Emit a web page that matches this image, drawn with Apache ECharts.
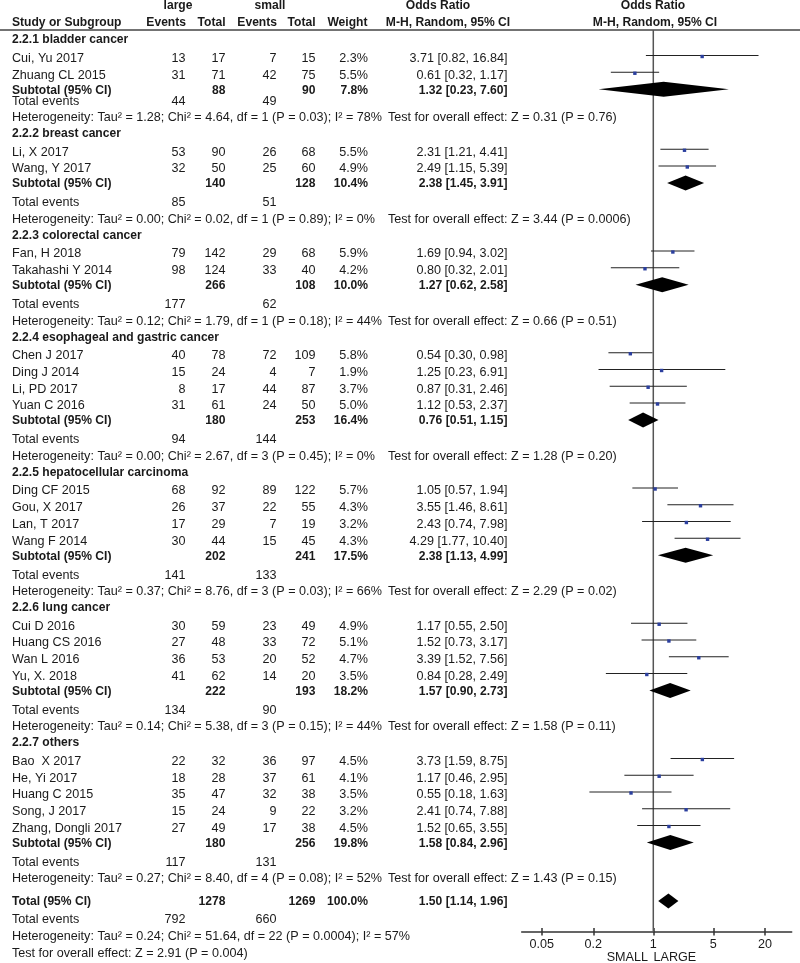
<!DOCTYPE html>
<html>
<head>
<meta charset="utf-8">
<script src="https://cdn.jsdelivr.net/npm/echarts@6/dist/echarts.min.js"></script>
<style>
html,body{margin:0;padding:0;background:#fff;}
#chart{width:800px;height:963px;}
</style>
</head>
<body>
<div id="chart"></div>
<script>
// ---------------- DATA ----------------
const groupNames = ["2.2.1 bladder cancer","2.2.2 breast cancer","2.2.3 colorectal cancer","2.2.4 esophageal and gastric cancer","2.2.5 hepatocellular carcinoma","2.2.6 lung cancer","2.2.7 others"];
const studyNames = ["Cui, Yu 2017","Zhuang CL 2015","Li, X 2017","Wang, Y 2017","Fan, H 2018","Takahashi Y 2014","Chen J 2017","Ding J 2014","Li, PD 2017","Yuan C 2016","Ding CF 2015","Gou, X 2017","Lan, T 2017","Wang F 2014","Cui D 2016","Huang CS 2016","Wan L 2016","Yu, X. 2018","Bao  X 2017","He, Yi 2017","Huang C 2015","Song, J 2017","Zhang, Dongli 2017"];
const studyGroup = [0,0,1,1,2,2,3,3,3,3,4,4,4,4,5,5,5,5,6,6,6,6,6];
const largeEvents = [13,31,53,32,79,98,40,15,8,31,68,26,17,30,30,27,36,41,22,18,35,15,27];
const largeTotal = [17,71,90,50,142,124,78,24,17,61,92,37,29,44,59,48,53,62,32,28,47,24,49];
const smallEvents = [7,42,26,25,29,33,72,4,44,24,89,22,7,15,23,33,20,14,36,37,32,9,17];
const smallTotal = [15,75,68,60,68,40,109,7,87,50,122,55,19,45,49,72,52,20,97,61,38,22,38];
const studyWeight = [2.3,5.5,5.5,4.9,5.9,4.2,5.8,1.9,3.7,5.0,5.7,4.3,3.2,4.3,4.9,5.1,4.7,3.5,4.5,4.1,3.5,3.2,4.5];
const studyOR = [3.71,0.61,2.31,2.49,1.69,0.80,0.54,1.25,0.87,1.12,1.05,3.55,2.43,4.29,1.17,1.52,3.39,0.84,3.73,1.17,0.55,2.41,1.52];
const studyLow = [0.82,0.32,1.21,1.15,0.94,0.32,0.30,0.23,0.31,0.53,0.57,1.46,0.74,1.77,0.55,0.73,1.52,0.28,1.59,0.46,0.18,0.74,0.65];
const studyHigh = [16.84,1.17,4.41,5.39,3.02,2.01,0.98,6.91,2.46,2.37,1.94,8.61,7.98,10.40,2.50,3.17,7.56,2.49,8.75,2.95,1.63,7.88,3.55];

const subLargeTotal = [88,140,266,180,202,222,180];
const subSmallTotal = [90,128,108,253,241,193,256];
const subWeight = [7.8,10.4,10.0,16.4,17.5,18.2,19.8];
const subOR = [1.32,2.38,1.27,0.76,2.38,1.57,1.58];
const subLow = [0.23,1.45,0.62,0.51,1.13,0.90,0.84];
const subHigh = [7.60,3.91,2.58,1.15,4.99,2.73,2.96];
const subLargeEvents = [44,85,177,94,141,134,117];
const subSmallEvents = [49,51,62,144,133,90,131];
const hetTexts = [
  "Heterogeneity: Tau\u00b2 = 1.28; Chi\u00b2 = 4.64, df = 1 (P = 0.03); I\u00b2 = 78%",
  "Heterogeneity: Tau\u00b2 = 0.00; Chi\u00b2 = 0.02, df = 1 (P = 0.89); I\u00b2 = 0%",
  "Heterogeneity: Tau\u00b2 = 0.12; Chi\u00b2 = 1.79, df = 1 (P = 0.18); I\u00b2 = 44%",
  "Heterogeneity: Tau\u00b2 = 0.00; Chi\u00b2 = 2.67, df = 3 (P = 0.45); I\u00b2 = 0%",
  "Heterogeneity: Tau\u00b2 = 0.37; Chi\u00b2 = 8.76, df = 3 (P = 0.03); I\u00b2 = 66%",
  "Heterogeneity: Tau\u00b2 = 0.14; Chi\u00b2 = 5.38, df = 3 (P = 0.15); I\u00b2 = 44%",
  "Heterogeneity: Tau\u00b2 = 0.27; Chi\u00b2 = 8.40, df = 4 (P = 0.08); I\u00b2 = 52%"
];
const testTexts = [
  "Test for overall effect: Z = 0.31 (P = 0.76)",
  "Test for overall effect: Z = 3.44 (P = 0.0006)",
  "Test for overall effect: Z = 0.66 (P = 0.51)",
  "Test for overall effect: Z = 1.28 (P = 0.20)",
  "Test for overall effect: Z = 2.29 (P = 0.02)",
  "Test for overall effect: Z = 1.58 (P = 0.11)",
  "Test for overall effect: Z = 1.43 (P = 0.15)"
];
const totalLarge = 1278, totalSmall = 1269, totalWeight = 100.0;
const totalOR = 1.50, totalLow = 1.14, totalHigh = 1.96;
const totalLargeEvents = 792, totalSmallEvents = 660;
const totalHetText = "Heterogeneity: Tau\u00b2 = 0.24; Chi\u00b2 = 51.64, df = 22 (P = 0.0004); I\u00b2 = 57%";
const totalTestText = "Test for overall effect: Z = 2.91 (P = 0.004)";
const tickValues = [0.05, 0.2, 1, 5, 20];
const axisLeftLabel = "SMALL", axisRightLabel = "LARGE";

// ---------------- LAYOUT ----------------
const FONT = '"Liberation Sans", Arial, Helvetica, sans-serif';
const FS = 12.6, FSB = 12.1;
const TXT = '#1a1a1a';
const COL = {name: 12, le: 185.5, lt: 225.5, se: 276.5, st: 315.5, w: 368, ci: 507.5, test: 388};
const GRID_L = 521.7, GRID_W = 270, AXIS_Y = 931.7, TICK_HALF = 3.75;
const LOG_MIN = -1.5338, LOG_MAX = 1.6131;

// build rows
const rows = [];
groupNames.forEach((g, gi) => {
  rows.push({kind:'group', g: gi});
  studyNames.forEach((s, si) => { if (studyGroup[si] === gi) rows.push({kind:'study', i: si}); });
  rows.push({kind:'sub', g: gi});
  rows.push({kind:'te', g: gi});
  rows.push({kind:'het', g: gi});
});
rows.push({kind:'total'});
rows.push({kind:'tte'});
rows.push({kind:'thet'});
rows.push({kind:'ttest'});

let y = 40;
rows.forEach((r, k) => {
  if (k > 0) {
    const prev = rows[k-1].kind;
    let step = 16.5;
    if (r.kind === 'group') step = 16;
    else if (r.kind === 'study') step = (prev === 'group') ? 18.5 : 16.75;
    else if (r.kind === 'sub') step = 15;
    else if (r.kind === 'te') step = (r.g === 0) ? 11 : 19;
    else if (r.kind === 'het') step = 16.5;
    else if (r.kind === 'total') step = 23;
    else if (r.kind === 'tte') step = 18;
    else if (r.kind === 'thet') step = 16.5;
    else if (r.kind === 'ttest') step = 17;
    y += step;
  }
  r.y = y;
});

// ---------------- TEXT ----------------
const graphics = [];
function T(x, yy, text, align, bold) {
  graphics.push({
    type: 'text', x: x, y: yy, silent: true,
    style: {
      text: String(text),
      font: (bold ? 'bold ' + FSB : FS) + 'px ' + FONT,
      fill: TXT,
      align: align || 'left', verticalAlign: 'middle',
      textAlign: align || 'left', textVerticalAlign: 'middle'
    }
  });
}
const f2 = v => v.toFixed(2);
const ciStr = (o, l, h) => f2(o) + ' [' + f2(l) + ', ' + f2(h) + ']';

// headers
T(178, 6, 'large', 'center', true);
T(270, 6, 'small', 'center', true);
T(438, 6, 'Odds Ratio', 'center', true);
T(653, 6, 'Odds Ratio', 'center', true);
T(COL.name, 23, 'Study or Subgroup', 'left', true);
T(186, 23, 'Events', 'right', true);
T(225.5, 23, 'Total', 'right', true);
T(277, 23, 'Events', 'right', true);
T(315.5, 23, 'Total', 'right', true);
T(367.5, 23, 'Weight', 'right', true);
T(448, 23, 'M-H, Random, 95% CI', 'center', true);
T(655, 23, 'M-H, Random, 95% CI', 'center', true);
graphics.push({type:'line', silent:true, shape:{x1:0, y1:30, x2:800, y2:30}, style:{stroke:'#444', lineWidth:1.5}});

rows.forEach(r => {
  const yy = r.y;
  if (r.kind === 'group') T(COL.name, yy, groupNames[r.g], 'left', true);
  else if (r.kind === 'study') {
    const i = r.i;
    T(COL.name, yy, studyNames[i]);
    T(COL.le, yy, largeEvents[i], 'right');
    T(COL.lt, yy, largeTotal[i], 'right');
    T(COL.se, yy, smallEvents[i], 'right');
    T(COL.st, yy, smallTotal[i], 'right');
    T(COL.w, yy, studyWeight[i].toFixed(1) + '%', 'right');
    T(COL.ci, yy, ciStr(studyOR[i], studyLow[i], studyHigh[i]), 'right');
  } else if (r.kind === 'sub') {
    const g = r.g;
    T(COL.name, yy, 'Subtotal (95% CI)', 'left', true);
    T(COL.lt, yy, subLargeTotal[g], 'right', true);
    T(COL.st, yy, subSmallTotal[g], 'right', true);
    T(COL.w, yy, subWeight[g].toFixed(1) + '%', 'right', true);
    T(COL.ci, yy, ciStr(subOR[g], subLow[g], subHigh[g]), 'right', true);
  } else if (r.kind === 'te') {
    T(COL.name, yy, 'Total events');
    T(COL.le, yy, subLargeEvents[r.g], 'right');
    T(COL.se, yy, subSmallEvents[r.g], 'right');
  } else if (r.kind === 'het') {
    T(COL.name, yy, hetTexts[r.g]);
    T(COL.test, yy, testTexts[r.g]);
  } else if (r.kind === 'total') {
    T(COL.name, yy, 'Total (95% CI)', 'left', true);
    T(COL.lt, yy, totalLarge, 'right', true);
    T(COL.st, yy, totalSmall, 'right', true);
    T(COL.w, yy, totalWeight.toFixed(1) + '%', 'right', true);
    T(COL.ci, yy, ciStr(totalOR, totalLow, totalHigh), 'right', true);
  } else if (r.kind === 'tte') {
    T(COL.name, yy, 'Total events');
    T(COL.le, yy, totalLargeEvents, 'right');
    T(COL.se, yy, totalSmallEvents, 'right');
  } else if (r.kind === 'thet') {
    T(COL.name, yy, totalHetText);
  } else if (r.kind === 'ttest') {
    T(COL.name, yy, totalTestText);
  }
});
T(648, 957.5, axisLeftLabel, 'right');
T(653.5, 957.5, axisRightLabel, 'left');

// ---------------- MARK DATA ----------------
const L = Math.log10;
const studyData = [];
const diamondData = [];
rows.forEach(r => {
  if (r.kind === 'study') studyData.push([L(studyOR[r.i]), r.y - 2.5, L(studyLow[r.i]), L(studyHigh[r.i])]);
  else if (r.kind === 'sub') diamondData.push([L(subOR[r.g]), r.y - 1, L(subLow[r.g]), L(subHigh[r.g])]);
  else if (r.kind === 'total') diamondData.push([L(totalOR), r.y - 1, L(totalLow), L(totalHigh)]);
});

const tickPos = tickValues.map(v => L(v));
const fmtTick = v => String(parseFloat(Math.pow(10, v).toPrecision(3)));

const chart = echarts.init(document.getElementById('chart'), null, {renderer: 'canvas'});
chart.setOption({
  animation: false,
  backgroundColor: '#fff',
  grid: [
    {left: GRID_L, width: GRID_W, top: 0, height: AXIS_Y, containLabel: false},
    {left: GRID_L, width: GRID_W, top: 0, height: AXIS_Y + TICK_HALF, containLabel: false}
  ],
  xAxis: [{
    gridIndex: 0, type: 'value', min: LOG_MIN, max: LOG_MAX, position: 'bottom',
    axisLine: {show: true, onZero: false, lineStyle: {color: '#333', width: 1.5}},
    axisTick: {show: false},
    axisLabel: {show: true, customValues: tickPos, formatter: fmtTick, margin: 6, color: TXT, fontSize: FS, fontFamily: FONT},
    splitLine: {show: false}
  }, {
    gridIndex: 1, type: 'value', min: LOG_MIN, max: LOG_MAX, position: 'bottom',
    axisLine: {show: false, onZero: false},
    axisTick: {show: true, inside: true, length: 2 * TICK_HALF, customValues: tickPos, lineStyle: {color: '#333', width: 1.5}},
    axisLabel: {show: false},
    splitLine: {show: false}
  }],
  yAxis: [
    {gridIndex: 0, type: 'value', min: 0, max: AXIS_Y, inverse: true, show: false},
    {gridIndex: 1, type: 'value', min: 0, max: AXIS_Y + TICK_HALF, inverse: true, show: false}
  ],
  graphic: {elements: graphics},
  series: [
    {
      type: 'line', xAxisIndex: 0, yAxisIndex: 0, data: [[0, 30], [0, AXIS_Y]], symbol: 'none',
      lineStyle: {color: '#555', width: 1.5}, silent: true, z: 1
    },
    {
      type: 'custom', xAxisIndex: 0, yAxisIndex: 0, data: studyData, z: 3,
      renderItem: function (params, api) {
        const c = api.coord([api.value(0), api.value(1)]);
        const a = api.coord([api.value(2), api.value(1)]);
        const b = api.coord([api.value(3), api.value(1)]);
        return {
          type: 'group', children: [
            {type: 'line', shape: {x1: a[0], y1: a[1] - 0.5, x2: b[0], y2: b[1] - 0.5}, style: {stroke: '#222', lineWidth: 1}},
            {type: 'rect', shape: {x: c[0] - 1.7, y: c[1] - 1.2, width: 3.4, height: 3.4}, style: {fill: '#2b3f9e'}}
          ]
        };
      }
    },
    {
      type: 'custom', xAxisIndex: 0, yAxisIndex: 0, data: diamondData, z: 3,
      renderItem: function (params, api) {
        const c = api.coord([api.value(0), api.value(1)]);
        const a = api.coord([api.value(2), api.value(1)]);
        const b = api.coord([api.value(3), api.value(1)]);
        const h = 7.5;
        return {
          type: 'polygon',
          shape: {points: [[a[0], a[1]], [c[0], c[1] - h], [b[0], b[1]], [c[0], c[1] + h]]},
          style: {fill: '#000'}
        };
      }
    }
  ]
});
</script>
</body>
</html>
